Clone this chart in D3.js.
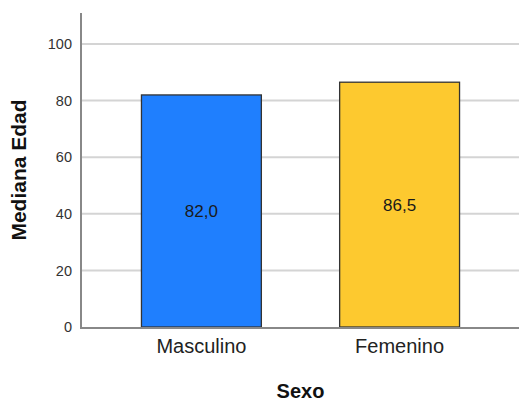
<!DOCTYPE html>
<html>
<head>
<meta charset="utf-8">
<script src="https://cdn.jsdelivr.net/npm/d3@7"></script>
<style>
  html, body { margin: 0; padding: 0; background: #fff; }
  svg { display: block; font-family: "Liberation Sans", Arial, sans-serif; }
</style>
</head>
<body>
<svg id="chart" width="520" height="401"></svg>
<script>
// Median age by sex
const categories = ["Masculino", "Femenino"];
const values = [82.0, 86.5];
const valueLabels = ["82,0", "86,5"];
const barColors = ["#1f7ffe", "#fdc92f"];
const yTicks = [0, 20, 40, 60, 80, 100];
const xTitle = "Sexo";
const yTitle = "Mediana Edad";

const svg = d3.select("#chart");
const plotLeft = 82, plotRight = 519, plotTop = 13, plotBottom = 327;

const x = d3.scaleBand()
  .domain(categories)
  .range([plotLeft, plotRight])
  .paddingInner(0.395)
  .paddingOuter(0.30);

const y = d3.scaleLinear()
  .domain([0, 100])
  .range([plotBottom, 44]);

// horizontal gridlines
svg.append("g")
  .selectAll("line")
  .data(yTicks.filter(d => d > 0))
  .join("line")
  .attr("x1", plotLeft).attr("x2", plotRight)
  .attr("y1", d => y(d)).attr("y2", d => y(d))
  .attr("stroke", "#d4d4d4")
  .attr("stroke-width", 2);

// y axis
const yAxis = svg.append("g")
  .attr("transform", `translate(${plotLeft - 1},0)`)
  .call(d3.axisLeft(y).tickValues(yTicks).tickSize(0).tickPadding(9).tickFormat(d3.format("d")));
yAxis.select(".domain").remove();
yAxis.selectAll("text")
  .attr("font-size", 14.5)
  .attr("fill", "#333")
  .attr("font-family", "Liberation Sans, Arial, sans-serif");
svg.append("line")
  .attr("x1", plotLeft - 1).attr("x2", plotLeft - 1)
  .attr("y1", plotTop).attr("y2", plotBottom + 1)
  .attr("stroke", "#888").attr("stroke-width", 2);

// bars
svg.append("g")
  .selectAll("rect")
  .data(categories)
  .join("rect")
  .attr("x", d => x(d))
  .attr("y", (d, i) => y(values[i]))
  .attr("width", x.bandwidth())
  .attr("height", (d, i) => y(0) - y(values[i]))
  .attr("fill", (d, i) => barColors[i])
  .attr("stroke", "#333")
  .attr("stroke-width", 1.3);

// value labels inside bars
svg.append("g")
  .selectAll("text")
  .data(categories)
  .join("text")
  .attr("x", d => x(d) + x.bandwidth() / 2)
  .attr("y", (d, i) => y(values[i] / 2))
  .attr("dy", "0.35em")
  .attr("text-anchor", "middle")
  .attr("font-size", 17)
  .attr("fill", "#1a1a1a")
  .text((d, i) => valueLabels[i]);

// x axis baseline
svg.append("line")
  .attr("x1", plotLeft - 2).attr("x2", plotRight)
  .attr("y1", plotBottom + 1).attr("y2", plotBottom + 1)
  .attr("stroke", "#888").attr("stroke-width", 2);

// x category labels
const xAxis = svg.append("g")
  .attr("transform", `translate(0,${plotBottom})`)
  .call(d3.axisBottom(x).tickSize(0).tickPadding(12));
xAxis.select(".domain").remove();
xAxis.selectAll("text")
  .attr("font-size", 20)
  .attr("fill", "#222")
  .attr("font-family", "Liberation Sans, Arial, sans-serif");

// axis titles
svg.append("text")
  .attr("x", (plotLeft + plotRight) / 2)
  .attr("y", 398)
  .attr("text-anchor", "middle")
  .attr("font-size", 20)
  .attr("font-weight", "bold")
  .attr("fill", "#111")
  .text(xTitle);

svg.append("text")
  .attr("transform", "translate(26,170) rotate(-90)")
  .attr("text-anchor", "middle")
  .attr("font-size", 21)
  .attr("font-weight", "bold")
  .attr("fill", "#111")
  .text(yTitle);
</script>
</body>
</html>
